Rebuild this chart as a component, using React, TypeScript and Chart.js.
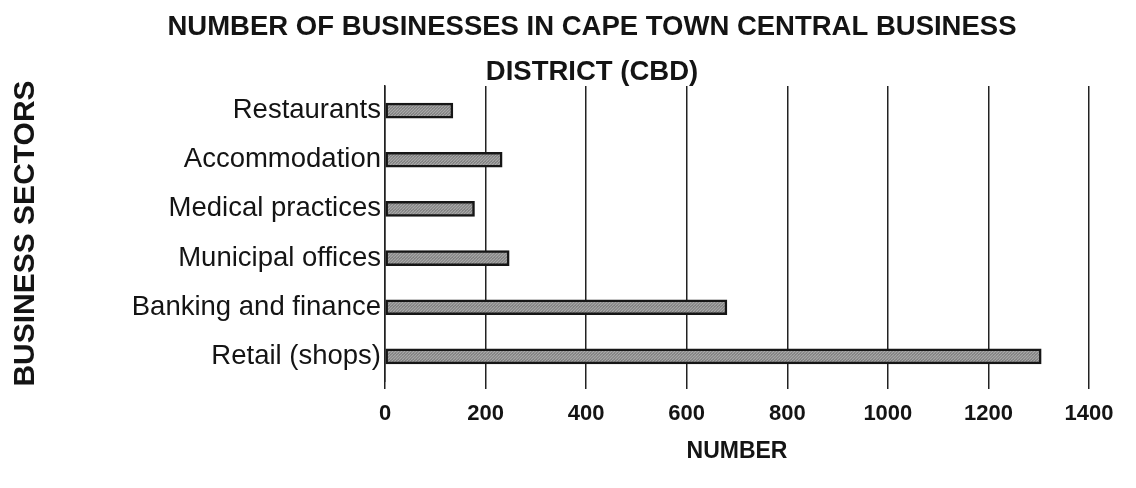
import React, { useEffect, useRef } from "react";
import { Chart, registerables } from "chart.js";

Chart.register(...registerables);

const TITLE_LINES = [
  "NUMBER OF BUSINESSES IN CAPE TOWN CENTRAL BUSINESS",
  "DISTRICT (CBD)",
];
const CATEGORIES = [
  "Restaurants",
  "Accommodation",
  "Medical practices",
  "Municipal offices",
  "Banking and finance",
  "Retail (shops)",
];
const VALUES = [135, 233, 178, 247, 680, 1305];
const X_MIN = 0;
const X_MAX = 1400;
const X_STEP = 200;
const X_TITLE = "NUMBER";
const Y_TITLE = "BUSINESS SECTORS";

const FONT = "'Liberation Sans', Arial, sans-serif";

function makePattern(): CanvasPattern | string {
  const c = document.createElement("canvas");
  c.width = 6;
  c.height = 6;
  const g = c.getContext("2d");
  if (!g) return "#888";
  g.fillStyle = "#747474";
  g.fillRect(0, 0, 6, 6);
  g.strokeStyle = "#a8a8a8";
  g.lineWidth = 1.3;
  for (let k = -6; k <= 12; k += 3) {
    g.beginPath();
    g.moveTo(k, 6);
    g.lineTo(k + 6, 0);
    g.stroke();
  }
  const p = g.createPattern(c, "repeat");
  return p || "#888";
}

const titlePlugin = {
  id: "cbdTitle",
  afterDraw(chart: any) {
    const { ctx } = chart;
    ctx.save();
    ctx.font = `bold 27.5px ${FONT}`;
    ctx.fillStyle = "#141414";
    ctx.textAlign = "center";
    ctx.textBaseline = "middle";
    TITLE_LINES.forEach((line, i) => ctx.fillText(line, 592, 27 + i * 45));
    ctx.restore();
  },
};

export default function App() {
  const ref = useRef<HTMLCanvasElement | null>(null);

  useEffect(() => {
    if (!ref.current) return;
    const chart = new Chart(ref.current, {
      type: "bar",
      data: {
        labels: CATEGORIES,
        datasets: [
          {
            data: VALUES,
            backgroundColor: makePattern() as any,
            borderColor: "#161616",
            borderWidth: 2.5,
            borderSkipped: false,
            barThickness: 15,
          },
        ],
      },
      options: {
        indexAxis: "y",
        animation: false,
        responsive: false,
        devicePixelRatio: 1,
        layout: { padding: { top: 86, left: 8, right: 47, bottom: 23 } },
        plugins: {
          legend: { display: false },
          title: { display: false },
          tooltip: { enabled: false },
        },
        scales: {
          x: {
            min: X_MIN,
            max: X_MAX,
            ticks: {
              stepSize: X_STEP,
              color: "#141414",
              padding: 12,
              font: { family: FONT, size: 22, weight: "bold" },
              callback: (v: any) => String(v),
            },
            grid: {
              color: "#222",
              lineWidth: 1.5,
              tickLength: 8,
              drawTicks: true,
            },
            border: { display: false },
            title: {
              display: true,
              text: X_TITLE,
              color: "#141414",
              font: { family: FONT, size: 23, weight: "bold" },
              padding: { top: -2, bottom: 0 },
            },
          },
          y: {
            ticks: {
              color: "#141414",
              padding: 4,
              font: { family: FONT, size: 27.5 },
            },
            grid: { display: false, drawTicks: false },
            border: { display: true, color: "#222", width: 1.5 },
            title: {
              display: true,
              text: Y_TITLE,
              color: "#141414",
              font: { family: FONT, size: 30, weight: "bold" },
              padding: { top: 0, bottom: 0 },
            },
            afterFit: (scale: any) => {
              scale.width = 377;
            },
          },
        },
      },
      plugins: [titlePlugin],
    } as any);
    return () => chart.destroy();
  }, []);

  return (
    <div
      style={{
        position: "fixed",
        left: 0,
        top: 0,
        width: 1136,
        height: 488,
        background: "#fff",
      }}
    >
      <canvas ref={ref} width={1136} height={488} />
    </div>
  );
}
